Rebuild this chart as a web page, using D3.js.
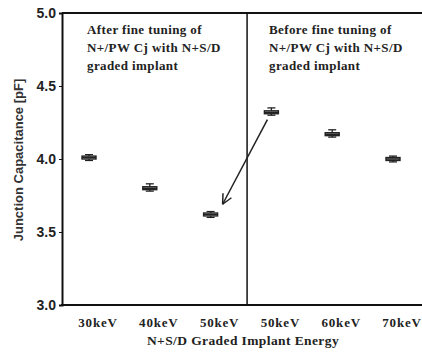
<!DOCTYPE html>
<html>
<head>
<script src="https://d3js.org/d3.v7.min.js"></script>
<style>
  body { margin: 0; background: #fff; }
</style>
</head>
<body>
<svg width="422" height="355"></svg>
<script>
// data
var energies = ["30keV", "40keV", "50keV", "50keV", "60keV", "70keV"];
var medians  = [4.01, 3.80, 3.62, 4.32, 4.17, 4.00];
var q1       = [4.00, 3.79, 3.61, 4.31, 4.16, 3.99];
var q3       = [4.02, 3.81, 3.63, 4.33, 4.18, 4.01];
var lows     = [3.99, 3.78, 3.60, 4.30, 4.15, 3.98];
var highs    = [4.03, 3.83, 3.64, 4.35, 4.20, 4.02];
var yTicks   = [3.0, 3.5, 4.0, 4.5, 5.0];
var notes    = [
  ["After fine tuning of", "N+/PW Cj with N+S/D", "graded implant"],
  ["Before fine tuning of", "N+/PW Cj with N+S/D", "graded implant"]
];

var svg = d3.select("svg");
var mLeft = 62, mTop = 13, mBottom = 305, mRight = 440;
var serif = "Liberation Serif, Times New Roman, serif";

var x = d3.scaleLinear().domain([0, 5]).range([89, 393]);
var y = d3.scaleLinear().domain([3, 5]).range([mBottom, mTop]);

// frame top
svg.append("line").attr("x1", mLeft).attr("x2", mRight).attr("y1", mTop).attr("y2", mTop)
  .attr("stroke", "#111").attr("stroke-width", 2);

// divider
svg.append("line").attr("x1", x(2.6)).attr("x2", x(2.6)).attr("y1", mTop).attr("y2", mBottom)
  .attr("stroke", "#111").attr("stroke-width", 1.5);

// y axis
var yAxis = svg.append("g").attr("transform", "translate(" + mLeft + ",0)")
  .call(d3.axisLeft(y).tickValues(yTicks).tickFormat(d3.format(".1f")).tickSize(3).tickPadding(3));
yAxis.select(".domain").attr("stroke", "#111").attr("stroke-width", 2);
yAxis.selectAll(".tick line").attr("stroke", "#111");
yAxis.selectAll("text").attr("font-family", "Liberation Sans, Arial, sans-serif")
  .attr("font-weight", "bold").attr("font-size", 14).attr("fill", "#222");

// x axis line
svg.append("line").attr("x1", mLeft - 1).attr("x2", mRight).attr("y1", mBottom).attr("y2", mBottom)
  .attr("stroke", "#111").attr("stroke-width", 2);

// x tick labels
svg.selectAll("text.xl").data(energies).enter().append("text")
  .attr("class", "xl")
  .attr("x", (d, i) => x(i) + 9)
  .attr("y", 327)
  .attr("text-anchor", "middle")
  .attr("font-family", serif)
  .attr("font-weight", "bold").attr("font-size", 13).attr("letter-spacing", 0.8).attr("fill", "#222")
  .text(d => d);

// axis titles
svg.append("text").attr("x", 243).attr("y", 345).attr("text-anchor", "middle")
  .attr("font-family", serif)
  .attr("font-weight", "bold").attr("font-size", 13.5).attr("letter-spacing", 0.4).attr("fill", "#222")
  .text("N+S/D Graded Implant Energy");

svg.append("text").attr("transform", "translate(23,160) rotate(-90)").attr("text-anchor", "middle")
  .attr("font-family", "Liberation Sans, Arial, sans-serif")
  .attr("font-weight", "bold").attr("font-size", 13).attr("fill", "#333")
  .text("Junction Capacitance [pF]");

// annotations
var noteX = [87, 269];
notes.forEach(function(lines, k) {
  svg.selectAll("text.n" + k).data(lines).enter().append("text")
    .attr("x", noteX[k]).attr("y", (d, i) => 34 + i * 18)
    .attr("font-family", serif)
    .attr("font-weight", "bold").attr("font-size", 13).attr("letter-spacing", 0.4).attr("fill", "#222")
    .text(d => d);
});

// box plots
var g = svg.selectAll("g.box").data(medians).enter().append("g").attr("class", "box");
g.append("line")
  .attr("x1", (d, i) => x(i)).attr("x2", (d, i) => x(i))
  .attr("y1", (d, i) => y(lows[i])).attr("y2", (d, i) => y(highs[i]))
  .attr("stroke", "#222").attr("stroke-width", 1.3);
g.append("line")
  .attr("x1", (d, i) => x(i) - 4).attr("x2", (d, i) => x(i) + 4)
  .attr("y1", (d, i) => y(highs[i])).attr("y2", (d, i) => y(highs[i]))
  .attr("stroke", "#222").attr("stroke-width", 1.3);
g.append("line")
  .attr("x1", (d, i) => x(i) - 4).attr("x2", (d, i) => x(i) + 4)
  .attr("y1", (d, i) => y(lows[i])).attr("y2", (d, i) => y(lows[i]))
  .attr("stroke", "#222").attr("stroke-width", 1.3);
g.append("rect")
  .attr("x", (d, i) => x(i) - 7).attr("width", 14)
  .attr("y", (d, i) => y(q3[i])).attr("height", (d, i) => y(q1[i]) - y(q3[i]))
  .attr("fill", "#fff").attr("stroke", "#222").attr("stroke-width", 1.4);
g.append("line")
  .attr("x1", (d, i) => x(i) - 7).attr("x2", (d, i) => x(i) + 7)
  .attr("y1", d => y(d)).attr("y2", d => y(d))
  .attr("stroke", "#222").attr("stroke-width", 1.6);

// arrow from "before" 50keV to "after" 50keV
var ax1 = x(3) - 4, ay1 = y(highs[3] - 0.08);
var ax2 = x(2) + 12, ay2 = y(q3[2] + 0.06);
svg.append("line").attr("x1", ax1).attr("y1", ay1).attr("x2", ax2).attr("y2", ay2)
  .attr("stroke", "#222").attr("stroke-width", 1.5);
var ang = Math.atan2(ay1 - ay2, ax1 - ax2), len = 11;
[-0.45, 0.45].forEach(function(a) {
  svg.append("line").attr("x1", ax2).attr("y1", ay2)
    .attr("x2", ax2 + len * Math.cos(ang + a)).attr("y2", ay2 + len * Math.sin(ang + a))
    .attr("stroke", "#222").attr("stroke-width", 1.5);
});
</script>
</body>
</html>
